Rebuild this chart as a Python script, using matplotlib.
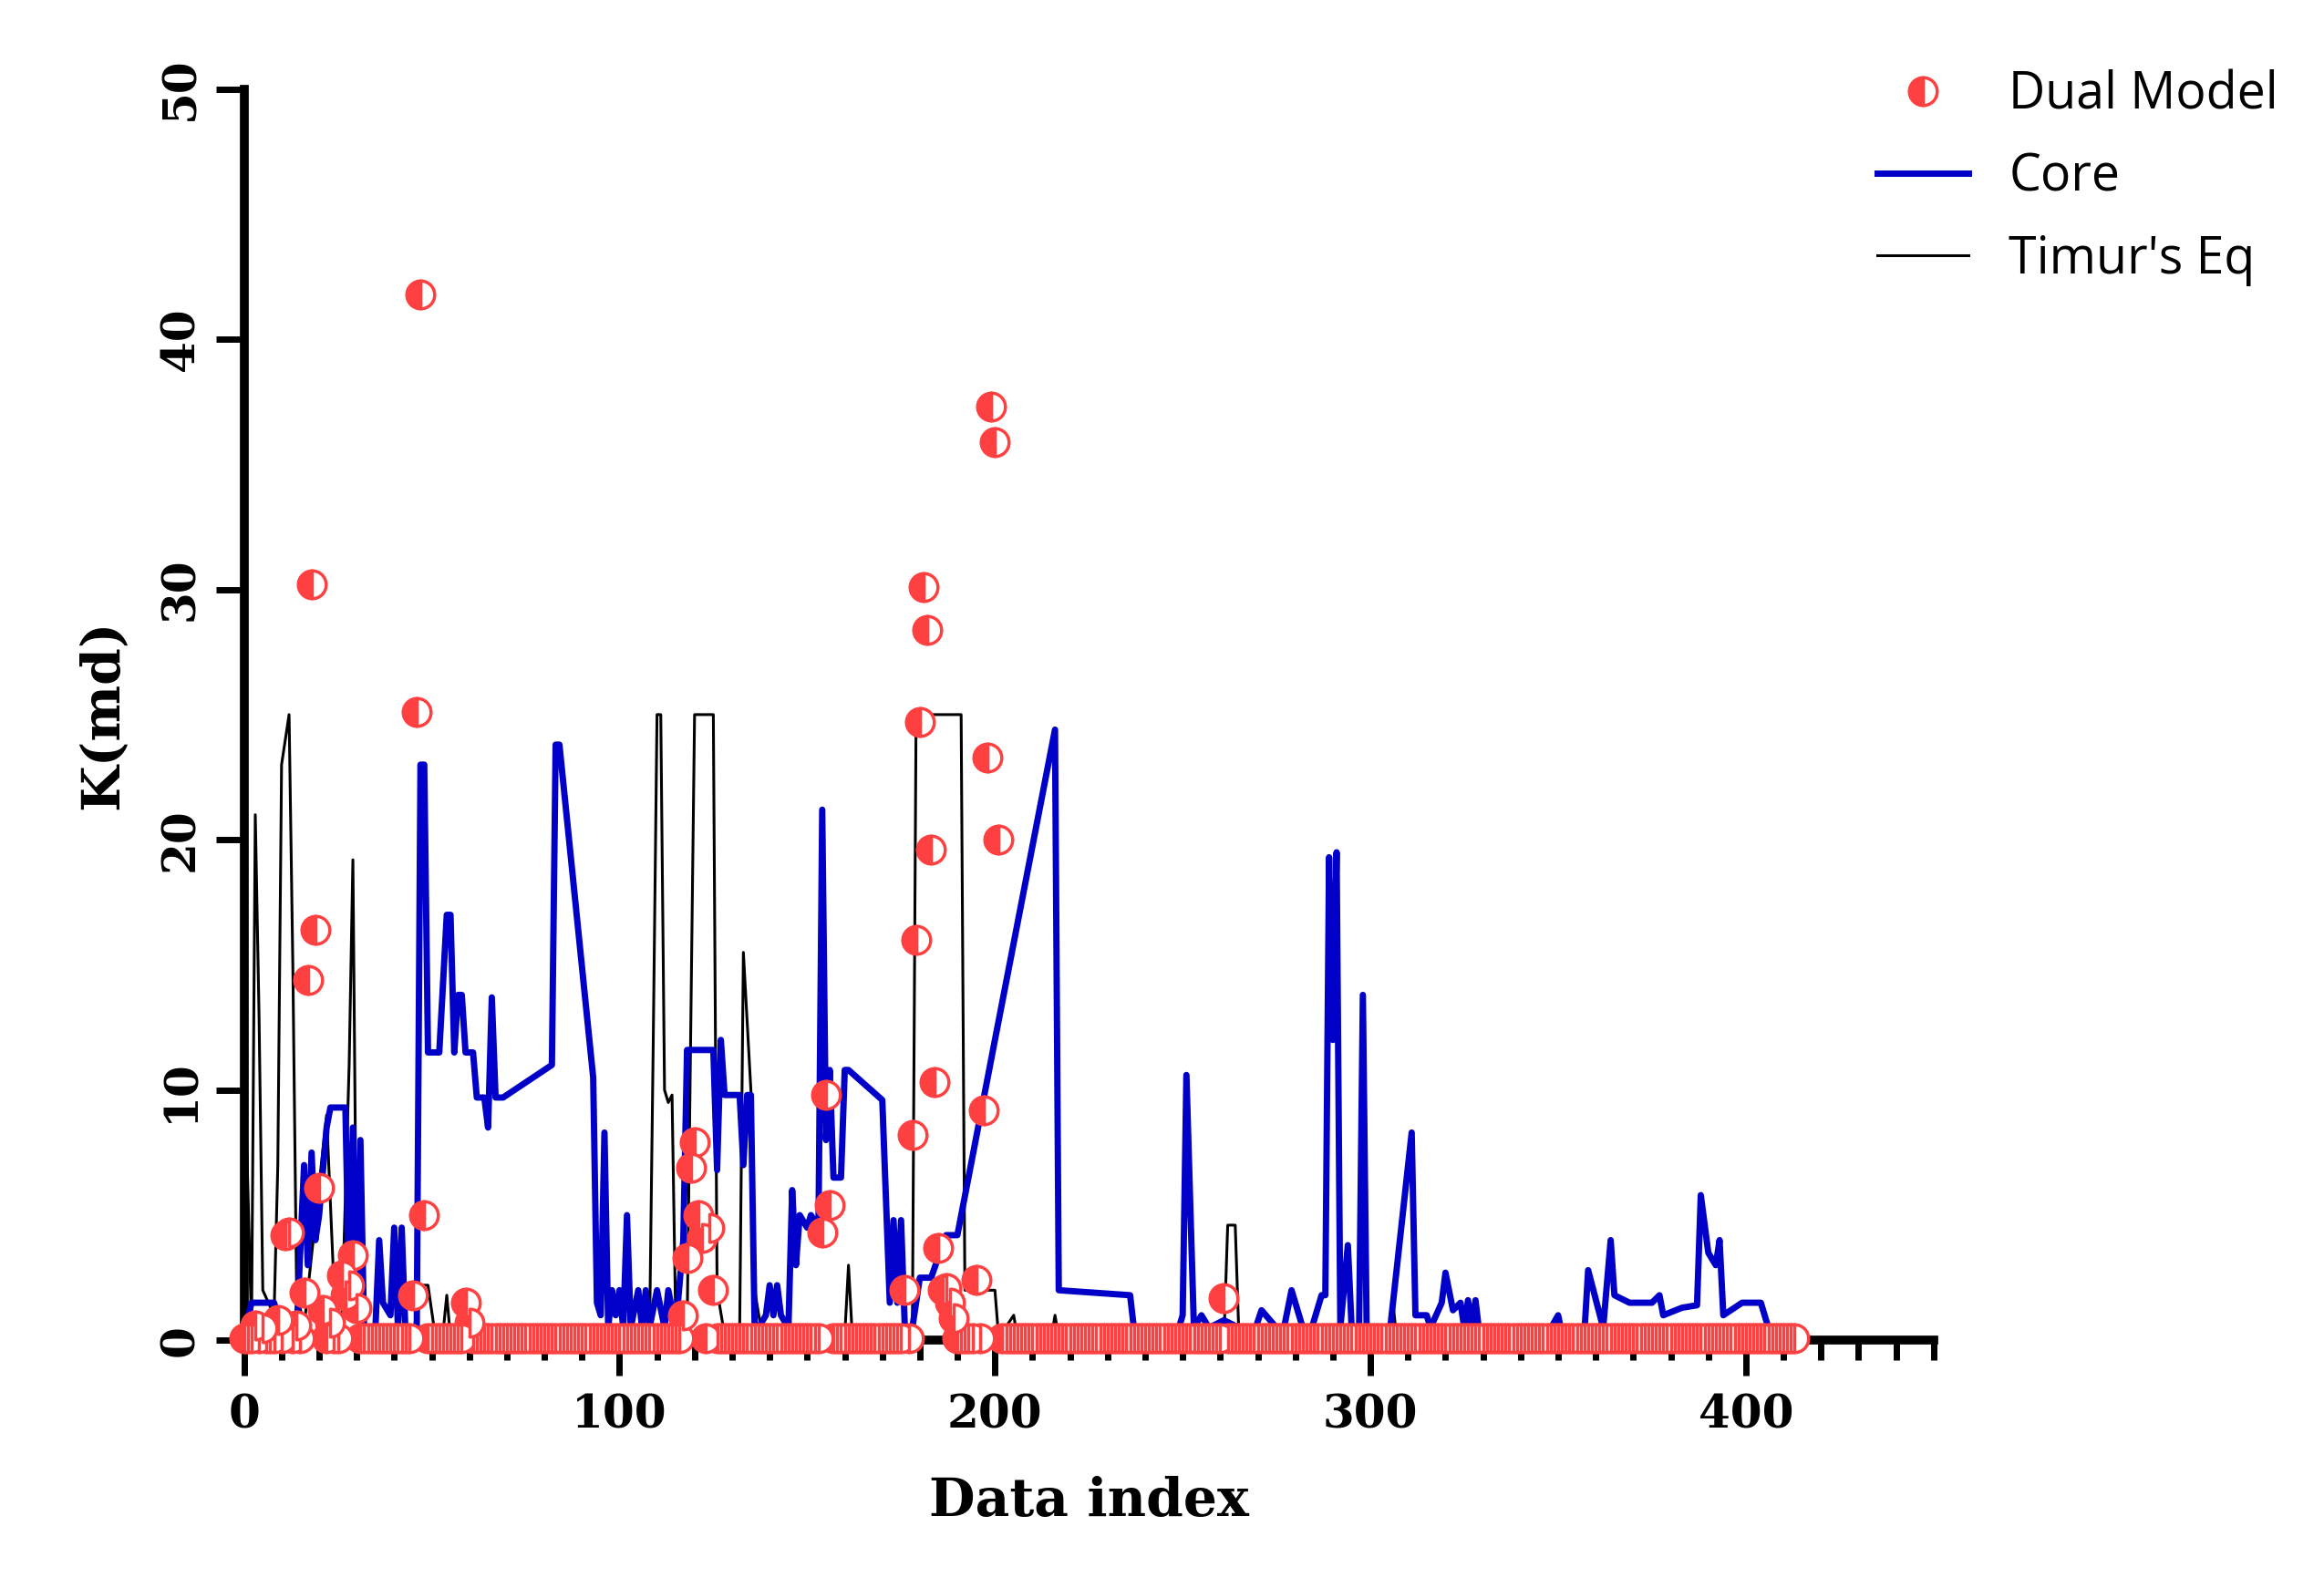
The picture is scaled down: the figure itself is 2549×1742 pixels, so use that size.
import numpy as np
import matplotlib.pyplot as plt

# Core permeability, (index, K) vertices
core_pts = [(0, 0.3), (2, 1.5), (8, 1.5), (10, 0.5), (14, 0.3), (16, 7), (17, 3), (18, 7.5), (19, 4), (20, 5),
            (22, 8.5), (23, 9.3), (27, 9.3), (28, 2), (29, 8.5), (30, 1), (31, 8), (32, 0.2), (35, 0.5), (36, 4),
            (37, 1.5), (39, 1), (40, 4.5), (41, 0.5), (42, 4.5), (43, 0.3), (46, 0.3), (47, 23), (48, 23),
            (49, 11.5), (52, 11.5), (54, 17), (55, 17), (56, 11.5), (57, 13.8), (58, 13.8), (59, 11.5),
            (61, 11.5), (62, 9.7), (64, 9.7), (65, 8.5), (66, 13.7), (67, 9.7), (69, 9.7), (82, 11), (83, 23.8),
            (84, 23.8), (93, 10.5), (94, 1.5), (95, 1), (96, 8.3), (97, 0.5), (98, 2), (99, 1), (100, 2),
            (101, 0.5), (102, 5), (103, 0.5), (105, 2), (106, 0.5), (107, 2), (108, 0.5), (110, 2), (112, 0.5),
            (113, 2), (115, 0.5), (117, 4), (118, 11.6), (125, 11.6), (126, 6.8), (127, 12), (128, 9.8),
            (132, 9.8), (133, 7), (134, 9.8), (135, 9.8), (136, 0.5), (137, 0.5), (139, 1), (140, 2.2), (141, 1),
            (142, 2.2), (143, 1), (145, 0.5), (146, 6), (147, 3), (148, 5), (150, 4.5), (151, 5), (153, 4.5),
            (154, 21.2), (155, 8), (156, 10.8), (157, 6.5), (159, 6.5), (160, 10.8), (161, 10.8), (170, 9.6),
            (172, 1.5), (173, 4.8), (174, 1.5), (175, 4.8), (176, 0.5), (178, 0.5), (180, 2.5), (183, 2.5),
            (187, 4.2), (190, 4.2), (200, 12), (216, 24.4), (217, 2), (236, 1.8), (237, 0.5), (240, 0.5),
            (242, 0.2), (248, 0.5), (249, 0.5), (250, 1), (251, 10.6), (253, 0.5), (255, 1), (257, 0.5),
            (261, 0.8), (265, 0.5), (269, 0.3), (271, 1.2), (275, 0.5), (277, 0.5), (279, 2), (282, 0.5),
            (284, 0.3), (287, 1.8), (288, 1.8), (289, 19.3), (290, 12), (291, 19.5), (292, 0.5), (294, 3.8),
            (295, 0.5), (297, 0.5), (298, 13.8), (299, 0.5), (302, 0.5), (305, 0.1), (311, 8.3), (312, 1),
            (315, 1), (316, 0.5), (319, 1.5), (320, 2.7), (322, 1.2), (324, 1.5), (325, 0.5), (326, 1.6),
            (327, 0.5), (328, 1.6), (329, 0.3), (332, 0.2), (342, 0.2), (347, 0.2), (350, 1), (351, 0.3),
            (352, 0.3), (357, 0.3), (358, 2.8), (362, 0.5), (364, 4), (365, 1.8), (369, 1.5), (375, 1.5),
            (377, 1.8), (378, 1), (383, 1.3), (387, 1.4), (388, 5.8), (390, 3.5), (392, 3), (393, 4), (394, 1),
            (399, 1.5), (404, 1.5), (406, 0.5)]
core_x = [p[0] for p in core_pts]
core_y = [p[1] for p in core_pts]

# Timur's equation, (index, K) vertices
timur_pts = [(0, 12), (2, 0.5), (3, 21), (4, 13), (5, 2), (8, 1), (9, 7), (10, 23), (12, 25), (13, 15), (14, 2),
             (16, 0.5), (17, 2), (22, 9), (24, 2), (26, 0.5), (28, 11), (29, 19.2), (30, 2), (31, 0.3), (45, 0.1),
             (47, 2.2), (49, 2.2), (51, 0.1), (53, 0.3), (54, 1.8), (55, 0.1), (108, 0.1), (109, 12), (110, 25),
             (111, 25), (112, 10), (113, 9.5), (114, 9.8), (115, 0.5), (118, 0.3), (120, 25), (125, 25), (126, 2),
             (128, 0.2), (132, 0.2), (133, 15.5), (135, 10), (136, 2), (138, 0.2), (160, 0.2), (161, 3),
             (162, 0.2), (178, 0.2), (179, 25), (191, 25), (192, 2), (200, 2), (201, 0.1), (205, 1), (206, 0.1),
             (215, 0.1), (216, 1), (217, 0.1), (261, 0.1), (262, 4.6), (264, 4.6), (265, 0.1), (305, 0.1),
             (306, 1.5), (307, 0.1), (412, 0.1)]
timur_x = [p[0] for p in timur_pts]
timur_y = [p[1] for p in timur_pts]

# Dual model: raised points, the rest sit near zero
dual_hi = [(47, 41.8), (46, 25.1), (48, 5.0), (18, 30.2), (19, 16.4), (17, 14.4), (20, 6.1), (11, 4.2),
           (12, 4.3), (16, 1.9), (29, 3.4), (26, 2.6), (27, 1.8), (28, 2.2), (45, 1.8), (59, 1.5), (60, 0.7),
           (118, 3.3), (120, 7.9), (119, 6.9), (121, 5.0), (122, 4.1), (124, 4.5), (125, 2.0), (117, 1.0),
           (155, 9.8), (154, 4.3), (156, 5.4), (178, 8.2), (179, 16.0), (180, 24.7), (181, 30.1), (182, 28.4),
           (183, 19.6), (184, 10.3), (185, 3.7), (176, 2.0), (186, 2.0), (187, 2.1), (188, 1.5), (189, 0.9),
           (199, 37.3), (200, 35.9), (198, 23.3), (201, 20.0), (197, 9.2), (195, 2.4), (261, 1.7), (3, 0.6),
           (5, 0.5), (9, 0.8), (14, 0.6), (21, 1.2), (23, 0.7), (30, 1.3)]
dual_hi_x = [p[0] for p in dual_hi]
dual_hi_y = [p[1] for p in dual_hi]
dual_base_x = [i for i in range(0, 414) if i not in dual_hi_x]
dual_base_y = [0.1] * len(dual_base_x)

dual_x = dual_base_x + dual_hi_x
dual_y = dual_base_y + dual_hi_y

fig = plt.figure(figsize=(25.49, 17.42), dpi=100)
ax = fig.add_axes([0.105, 0.156, 0.727, 0.788])

ax.plot(timur_x, timur_y, color="black", lw=2.2, label="Timur's Eq", zorder=2)
ax.plot(core_x, core_y, color="#0000C8", lw=5, label="Core", zorder=3)
ax.plot(dual_x, dual_y, ls="none", marker="o", ms=22, color="#FF4040", fillstyle="left",
        markerfacecoloralt="white", mec="#FF4040", mew=2.5, label="Dual Model", zorder=4, clip_on=False)

ax.set_xlim(0, 450)
ax.set_ylim(0, 50)
ax.set_xticks([0, 100, 200, 300, 400])
ax.set_xticks(np.arange(0, 451, 10), minor=True)
ax.set_yticks([0, 10, 20, 30, 40, 50])

for s in ["top", "right"]:
    ax.spines[s].set_visible(False)
for s in ["left", "bottom"]:
    ax.spines[s].set_linewidth(7)

ax.tick_params(axis="x", which="major", length=28, width=5, direction="out", pad=14)
ax.tick_params(axis="x", which="minor", length=16, width=5, direction="out")
ax.tick_params(axis="y", which="major", length=22, width=5, direction="out", pad=10)

serif = {"family": "DejaVu Serif", "weight": "bold"}
for lab in ax.get_xticklabels() + ax.get_yticklabels():
    lab.set_fontsize(36)
    lab.set_fontfamily("DejaVu Serif")
    lab.set_fontweight("bold")
for lab in ax.get_yticklabels():
    lab.set_rotation(90)
    lab.set_verticalalignment("center")

ax.set_xlabel("Data index", fontsize=42, labelpad=30, **serif)
ax.set_ylabel("K(md)", fontsize=42, labelpad=24, **serif)

handles, labels = ax.get_legend_handles_labels()
order = [2, 1, 0]
fig.legend([handles[i] for i in order], [labels[i] for i in order], loc="upper right",
           bbox_to_anchor=(1.0, 0.985), frameon=False, prop={"family": "Open Sans", "size": 40},
           handlelength=1.8, labelspacing=0.6)

fig.savefig("out.png", dpi=100)
